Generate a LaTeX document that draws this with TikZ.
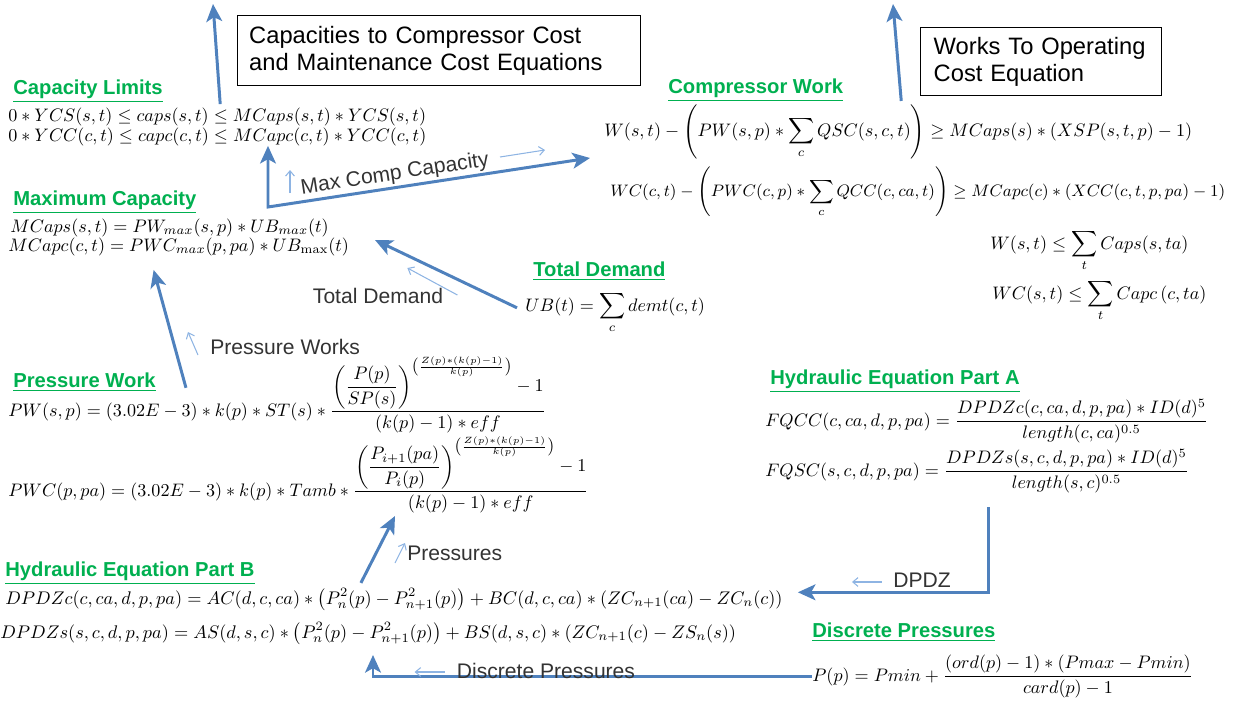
\RequirePackage{fix-cm}
\documentclass[tikz,border=0pt]{standalone}
\usepackage{amsmath,amssymb}
\usepackage{fontspec}
\newfontfamily\arialfont{Liberation Sans}
\usepackage{tikz}
\usetikzlibrary{arrows.meta}
\definecolor{flowblue}{HTML}{4F81BD}
\definecolor{hintblue}{HTML}{8EB4E3}
\definecolor{headgreen}{HTML}{00B050}

\begin{document}
\begin{tikzpicture}[x=0.02cm,y=-0.02cm,
  head/.style={anchor=base west,inner sep=0pt,text=headgreen,font=\arialfont\bfseries\fontsize{11.5}{13}\selectfont},
  eq/.style={anchor=base west,inner sep=0pt,font=\fontsize{10.3}{12}\selectfont},
  note/.style={inner sep=0pt,text=black!80,font=\arialfont\fontsize{12}{14}\selectfont},
  box/.style={draw,line width=0.8pt,anchor=north west,align=left,font=\arialfont\fontsize{13.5}{15.5}\selectfont},
  flow/.style={flowblue,line width=1.7pt,-{Stealth[length=10pt,width=9pt,inset=2.5pt]}},
  hint/.style={hintblue,line width=0.6pt,-{Straight Barb[length=3pt,width=5pt]}}]
\useasboundingbox (0,0) rectangle (1237,700);
\node[box,minimum width=8.06cm,minimum height=1.4cm,text width=7.6cm,inner xsep=0.23cm] (capbox) at (237,15) {Capacities to Compressor Cost\\and Maintenance Cost Equations};
\node[box,minimum width=4.82cm,minimum height=1.36cm,text width=4.3cm,inner xsep=0.26cm] (opbox) at (920,27) {Works To Operating\\Cost Equation};
\node[head] (limhead) at (13,94) {\underline{Capacity Limits}};
\node[eq] (caplimA) at (8,121) {$0\ast YCS(s,t)\le caps(s,t)\le MCaps(s,t)\ast YCS(s,t)$};
\node[eq] (caplimB) at (8,141) {$0\ast YCC(c,t)\le capc(c,t)\le MCapc(c,t)\ast YCC(c,t)$};
\node[head] (maxhead) at (13,205) {\underline{Maximum Capacity}};
\node[eq] (maxcapA) at (10,232) {$MCaps(s,t)=PW_{max}(s,p)\ast UB_{max}(t)$};
\node[eq] (maxcapB) at (8,251) {$MCapc(c,t)=PWC_{max}(p,pa)\ast UB_{\mathrm{max}}(t)$};
\node[head] (workhead) at (668,93) {\underline{Compressor Work}};
\node[eq] (compA) at (604,136) {$\displaystyle W(s,t)-\left(PW(s,p)\ast\sum_{c}QSC(s,c,t)\right)\ge MCaps(s)\ast(XSP(s,t,p)-1)$};
\node[eq,font=\fontsize{9.45}{12}\selectfont] (compB) at (610,196) {$\displaystyle WC(c,t)-\left(PWC(c,p)\ast\sum_{c}QCC(c,ca,t)\right)\ge MCapc(c)\ast(XCC(c,t,p,pa)-1)$};
\node[eq] (capsA) at (990,249) {$\displaystyle W(s,t)\le\sum_{t}Caps(s,ta)$};
\node[eq] (capsB) at (992,299) {$\displaystyle WC(s,t)\le\sum_{t}Capc\,(c,ta)$};
\node[head] (demhead) at (533,276) {\underline{Total Demand}};
\node[eq] (demand) at (525,311) {$\displaystyle UB(t)=\sum_{c}demt(c,t)$};
\node[head] (pwhead) at (13,387) {\underline{Pressure Work}};
\node[eq] (pwA) at (8,416) {$\displaystyle PW(s,p)=(3.02E-3)\ast k(p)\ast ST(s)\ast\frac{\left(\dfrac{P(p)}{SP(s)}\right)^{\left(\frac{Z(p)\ast(k(p)-1)}{k(p)}\right)}-1}{(k(p)-1)\ast eff}$};
\node[eq] (pwB) at (8,496) {$\displaystyle PWC(p,pa)=(3.02E-3)\ast k(p)\ast Tamb\ast\frac{\left(\dfrac{P_{i+1}(pa)}{P_i(p)}\right)^{\left(\frac{Z(p)\ast(k(p)-1)}{k(p)}\right)}-1}{(k(p)-1)\ast eff}$};
\node[head] (hahead) at (770,384) {\underline{Hydraulic Equation Part A}};
\node[eq] (fqcc) at (765,426) {$\displaystyle FQCC(c,ca,d,p,pa)=\frac{DPDZc(c,ca,d,p,pa)\ast ID(d)^5}{length(c,ca)^{0.5}}$};
\node[eq] (fqsc) at (765,476) {$\displaystyle FQSC(s,c,d,p,pa)=\frac{DPDZs(s,c,d,p,pa)\ast ID(d)^5}{length(s,c)^{0.5}}$};
\node[head] (hbhead) at (5,576) {\underline{Hydraulic Equation Part B}};
\node[eq,font=\fontsize{10.4}{12}\selectfont] (dpdzc) at (5,604) {$\displaystyle DPDZc(c,ca,d,p,pa)=AC(d,c,ca)\ast\left(P_n^2(p)-P_{n+1}^2(p)\right)+BC(d,c,ca)\ast(ZC_{n+1}(ca)-ZC_n(c))$};
\node[eq,font=\fontsize{10.4}{12}\selectfont] (dpdzs) at (0,638) {$\displaystyle DPDZs(s,c,d,p,pa)=AS(d,s,c)\ast\left(P_n^2(p)-P_{n+1}^2(p)\right)+BS(d,s,c)\ast(ZC_{n+1}(c)-ZS_n(s))$};
\node[head] (dphead) at (812,637) {\underline{Discrete Pressures}};
\node[eq] (disc) at (812,681) {$\displaystyle P(p)=Pmin+\frac{(ord(p)-1)\ast(Pmax-Pmin)}{card(p)-1}$};
\coordinate (capcost) at (213,4);
\coordinate (opcost) at (893,4);
\coordinate (mcbend) at (268,207);
\coordinate (mcin) at (590,158);
\coordinate (tdin) at (375,240);
\coordinate (psin) at (395,516);
\coordinate (dpin) at (373,655);
\draw[flow] ([shift={(3,-3)}]caplimA.north) -- (capcost);
\draw[flow] ([shift={(3,-3)}]compA.north) -- (opcost);
\draw[flow,{Stealth[length=10pt,width=9pt,inset=2.5pt]}-{Stealth[length=10pt,width=9pt,inset=2.5pt]}] (caplimB.south -| mcbend) -- (mcbend) -- node[note,sloped,above=1pt,pos=0.4] (mcclab) {Max Comp Capacity} (mcin);
\draw[hint] ([shift={(22,-14)}]mcbend) -- ++(0,-23);
\draw[hint] ([shift={(232,-50)}]mcbend) -- ++(45,-7);
\draw[flow] ([shift={(-8,-5)}]demand.west) -- (tdin);
\node[note] (tdlab) at (378,296) {Total Demand};
\draw[hint] ([shift={(14,-1)}]tdlab.east) -- ++(-50,-27);
\draw[flow] ([shift={(30,6)}]pwhead.east) -- ([shift={(-25,14)}]maxcapB.south);
\node[note,anchor=west] (pwlab) at (210,347) {Pressure Works};
\draw[hint] ([shift={(-12,8)}]pwlab.west) -- ++(-10,-23);
\draw[flow] ([shift={(11,14)}]fqsc.south) |- ([shift={(15,-7)}]dpdzc.east);
\node[note] (dzlab) at (922,580) {DPDZ};
\draw[hint] ([shift={(-11,2)}]dzlab.west) -- ++(-30,0);
\draw[flow] ([shift={(-33,-5)}]dpdzc.north) -- (psin);
\node[note,anchor=west] (pslab) at (407,553) {Pressures};
\draw[hint] ([shift={(-12,10)}]pslab.west) -- ++(10,-20);
\draw[flow] (disc.west) -| (dpin);
\node[note] (dplab) at (546,671) {Discrete Pressures};
\draw[hint] ([shift={(-12,1)}]dplab.west) -- ++(-30,0);
\end{tikzpicture}
\end{document}
